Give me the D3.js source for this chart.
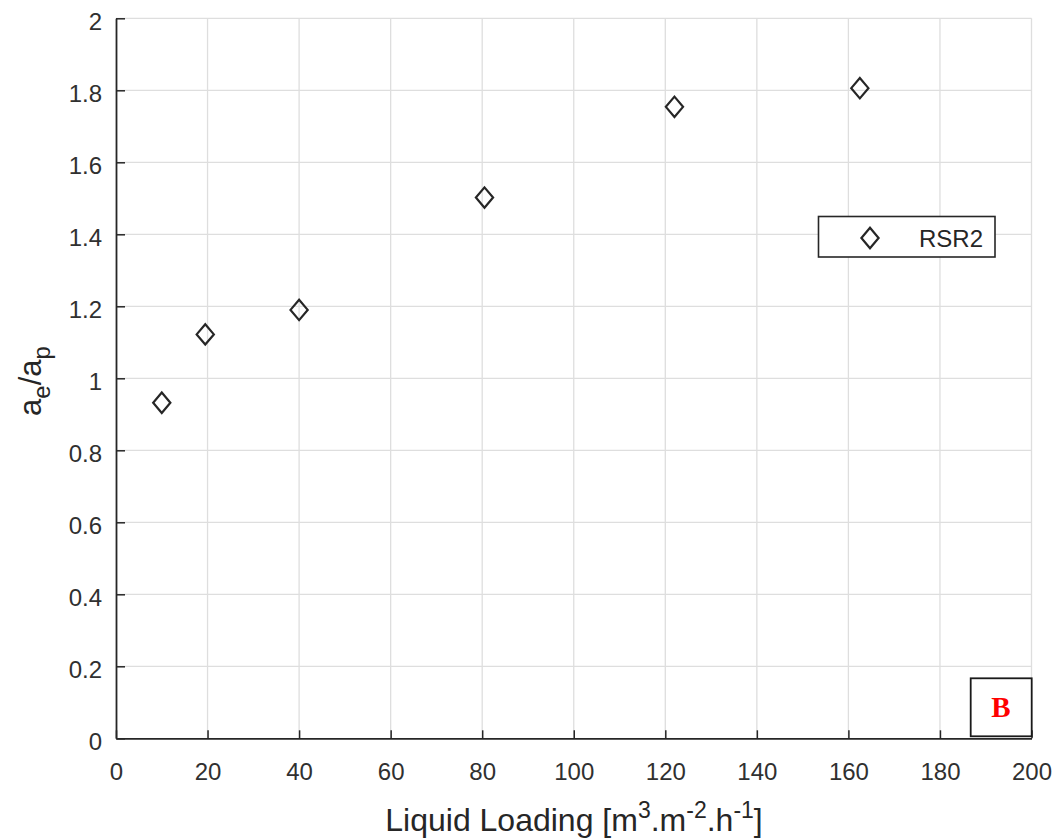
<!DOCTYPE html>
<html>
<head>
<meta charset="utf-8">
<script src="https://cdn.jsdelivr.net/npm/d3@7"></script>
<style>
  body { margin: 0; background: #fff; }
  svg { display: block; }
  text { font-family: "Liberation Sans", Arial, sans-serif; }
</style>
</head>
<body>
<svg id="chart" width="1056" height="838"></svg>
<script>
// Data
const liquidLoading = [10, 19.5, 40, 80.5, 122, 162.5];
const aeOverAp = [0.932, 1.122, 1.19, 1.502, 1.754, 1.806];
const seriesName = "RSR2";
const xTicks = [0, 20, 40, 60, 80, 100, 120, 140, 160, 180, 200];
const yTicks = [0, 0.2, 0.4, 0.6, 0.8, 1, 1.2, 1.4, 1.6, 1.8, 2];
const panelLabel = "B";

const svg = d3.select("#chart");
const pLeft = 116, pRight = 1031.5, pTop = 18.3, pBottom = 738.3;
const x = d3.scaleLinear().domain([0, 200]).range([pLeft, pRight]);
const y = d3.scaleLinear().domain([0, 2]).range([pBottom, pTop]);
const axisColor = "#262626";

// grid
const grid = svg.append("g");
grid.selectAll("line.vx").data(xTicks.filter(d => d > 0)).enter().append("line")
  .attr("x1", d => x(d)).attr("x2", d => x(d)).attr("y1", pTop).attr("y2", pBottom)
  .attr("stroke", "#dedede").attr("stroke-width", 1.3);
grid.selectAll("line.hy").data(yTicks.filter(d => d > 0)).enter().append("line")
  .attr("x1", pLeft).attr("x2", pRight).attr("y1", d => y(d)).attr("y2", d => y(d))
  .attr("stroke", "#dedede").attr("stroke-width", 1.3);

// axes
const xAxis = d3.axisBottom(x).tickValues(xTicks).tickSizeInner(-8).tickSizeOuter(0).tickPadding(33);
const yAxis = d3.axisLeft(y).tickValues(yTicks).tickSizeInner(-9).tickSizeOuter(0).tickPadding(23)
  .tickFormat(d => d3.format("~g")(d));

const gx = svg.append("g").attr("transform", `translate(0,${pBottom})`).call(xAxis);
const gy = svg.append("g").attr("transform", `translate(${pLeft},0)`).call(yAxis);
[gx, gy].forEach(g => {
  g.select(".domain").attr("stroke", axisColor).attr("stroke-width", 1.8);
  g.selectAll(".tick line").attr("stroke", axisColor).attr("stroke-width", 1.5);
  g.selectAll(".tick text").attr("fill", "#303030").style("font-size", "24px")
    .style("font-family", '"Liberation Sans", Arial, sans-serif');
});
gx.selectAll(".tick text").attr("dy", null).attr("y", 42);
gy.selectAll(".tick text").attr("dy", "0.36em").attr("x", -14).attr("transform", "translate(0,2.5)");

// points
const diamond = (cx, cy, w, h) => `M${cx},${cy - h}L${cx + w},${cy}L${cx},${cy + h}L${cx - w},${cy}Z`;
svg.append("g").selectAll("path").data(liquidLoading.map((v, i) => [v, aeOverAp[i]])).enter()
  .append("path")
  .attr("d", d => diamond(x(d[0]), y(d[1]), 8.6, 10.2))
  .attr("fill", "none").attr("stroke", "#262626").attr("stroke-width", 2.2);

// legend
const lg = svg.append("g");
lg.append("rect").attr("x", 818.5).attr("y", 216.5).attr("width", 176.5).attr("height", 40.5)
  .attr("fill", "#fff").attr("stroke", axisColor).attr("stroke-width", 1.6);
lg.append("path").attr("d", diamond(870, 238, 8.6, 10.2))
  .attr("fill", "none").attr("stroke", "#262626").attr("stroke-width", 2.2);
lg.append("text").attr("x", 919).attr("y", 246.5).attr("fill", axisColor)
  .style("font-size", "24px").text(seriesName);

// panel label box
svg.append("rect").attr("x", 970.7).attr("y", 678.3).attr("width", 61).attr("height", 58)
  .attr("fill", "#fff").attr("stroke", "#1a1a1a").attr("stroke-width", 1.8);
svg.append("text").attr("x", 1001).attr("y", 717).attr("text-anchor", "middle")
  .attr("fill", "#ff0000").style("font-family", '"Liberation Serif", "Times New Roman", serif')
  .style("font-weight", "bold").style("font-size", "29px").text(panelLabel);

// x label
const xl = svg.append("text").attr("x", 574).attr("y", 831).attr("text-anchor", "middle")
  .attr("fill", axisColor).style("font-size", "32px");
xl.append("tspan").text("Liquid Loading [m");
xl.append("tspan").attr("dy", -13).style("font-size", "23px").text("3");
xl.append("tspan").attr("dy", 13).text(".m");
xl.append("tspan").attr("dy", -13).style("font-size", "23px").text("-2");
xl.append("tspan").attr("dy", 13).text(".h");
xl.append("tspan").attr("dy", -13).style("font-size", "23px").text("-1");
xl.append("tspan").attr("dy", 13).text("]");

// y label
const yl = svg.append("text").attr("transform", "translate(41,381) rotate(-90)")
  .attr("text-anchor", "middle").attr("fill", axisColor).style("font-size", "31px");
yl.append("tspan").text("a");
yl.append("tspan").attr("dy", 9).style("font-size", "24px").text("e");
yl.append("tspan").attr("dy", -9).text("/a");
yl.append("tspan").attr("dy", 9).style("font-size", "24px").text("p");
</script>
</body>
</html>
